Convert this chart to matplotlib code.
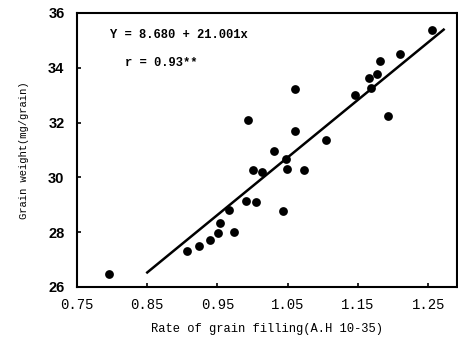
import matplotlib
matplotlib.use("Agg")
import matplotlib.pyplot as plt
import numpy as np

# Data
rate = [0.796, 0.907, 0.924, 0.940, 0.951, 0.954, 0.966, 0.974, 0.990, 1.005,
        1.000, 1.013, 0.994, 1.030, 1.043, 1.047, 1.049, 1.060, 1.061, 1.073,
        1.105, 1.146, 1.166, 1.169, 1.177, 1.182, 1.193, 1.210, 1.255]
weight = [26.46, 27.31, 27.48, 27.70, 27.98, 28.34, 28.80, 28.01, 29.14, 29.09,
          30.26, 30.20, 32.08, 30.95, 28.79, 30.68, 30.29, 31.68, 33.23, 30.28,
          31.38, 33.02, 33.63, 33.26, 33.79, 34.25, 32.23, 34.49, 35.39]
intercept = 8.680
slope = 21.001
line_x = [0.85, 1.272]
x_ticks = [0.75, 0.85, 0.95, 1.05, 1.15, 1.25]
x_ticklabels = ["0.75", "0.85", "0.95", "1.05", "1.15", "1.25"]
y_ticks = [26, 28, 30, 32, 34, 36]
y_ticklabels = ["26", "28", "30", "32", "34", "36"]
eq_text = "Y = 8.680 + 21.001x"
r_text = "r = 0.93**"
x_label = "Rate of grain filling(A.H 10-35)"
y_label = "Grain weight(mg/grain)"

mono = ["Liberation Mono", "DejaVu Sans Mono"]
narrow = ["Liberation Sans Narrow", "Liberation Sans", "DejaVu Sans"]

fig = plt.figure(figsize=(4.58, 3.43), dpi=100)
ax = fig.add_axes([77/458, 56/343, (457-77)/458, (287-13)/343])

ax.scatter(rate, weight, s=40, c="black", zorder=3, linewidths=0)
lx = np.array(line_x)
ax.plot(lx, intercept + slope * lx, color="black", lw=1.8, zorder=2)

ax.set_xlim(0.75, 1.291)
ax.set_ylim(26, 36)
ax.set_xticks(x_ticks)
ax.set_xticklabels(x_ticklabels, family=mono, fontsize=10)
ax.set_yticks(y_ticks)
ax.set_yticklabels(y_ticklabels, family=narrow, fontsize=10.5, fontweight="bold")
ax.tick_params(direction="in", length=3, width=1.2, colors="black")
ax.tick_params(axis="x", pad=8)
ax.tick_params(axis="y", pad=9)
for sp in ax.spines.values():
    sp.set_linewidth(1.5)

ax.set_xlabel(x_label, family=mono, fontsize=8.7, labelpad=8)
ax.set_ylabel(y_label, family=mono, fontsize=7.6, labelpad=14)

ax.text(110/458, 1 - 35/343, eq_text, transform=fig.transFigure, family=mono,
        fontsize=8.7, fontweight="bold", va="center", ha="left")
ax.text(125/458, 1 - 63/343, r_text, transform=fig.transFigure, family=mono,
        fontsize=8.7, fontweight="bold", va="center", ha="left")

fig.savefig("out.png", dpi=100)
